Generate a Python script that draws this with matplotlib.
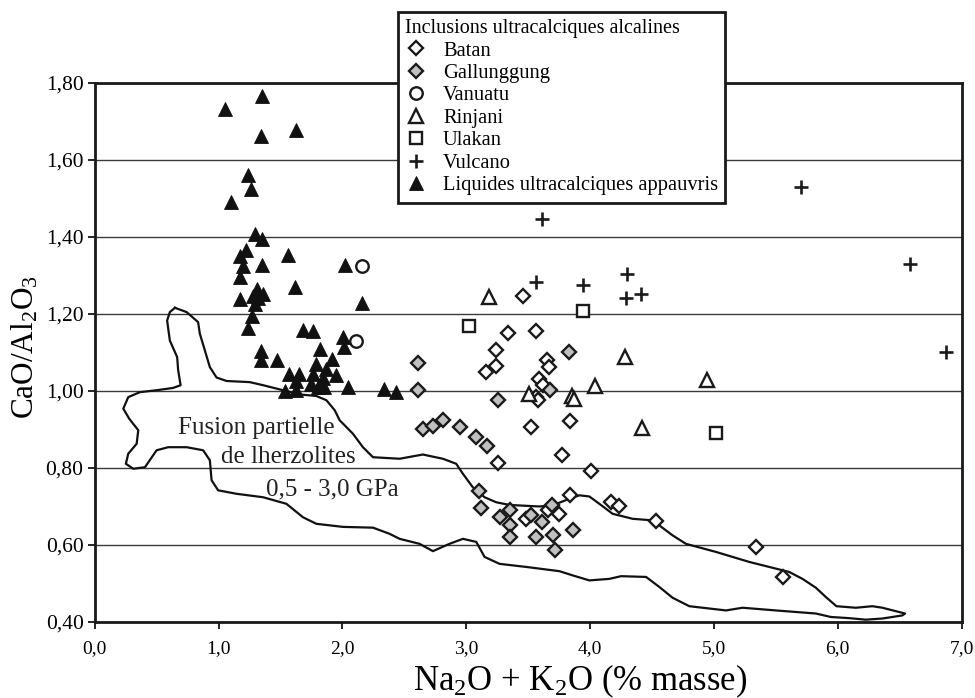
import matplotlib
matplotlib.use("Agg")
import matplotlib.pyplot as plt
from matplotlib.lines import Line2D
from matplotlib.ticker import FuncFormatter, MultipleLocator

plt.rcParams.update({
    "font.family": ["Liberation Serif", "DejaVu Serif"],
    "mathtext.fontset": "custom",
    "mathtext.rm": "Liberation Serif",
    "mathtext.it": "Liberation Serif:italic",
    "figure.dpi": 100,
})

# ── Données ───────────────────────────────────────────────────────────────────
batan_x = [3.46, 3.34, 3.56, 3.24, 3.24, 3.16, 3.65, 3.67, 3.59, 3.62, 3.56, 3.58, 3.52,
           3.84, 3.26, 3.77, 4.01, 3.84, 4.17, 4.23, 4.53, 5.34, 5.56, 3.66, 3.75, 3.48]
batan_y = [1.246, 1.151, 1.156, 1.107, 1.066, 1.050, 1.080, 1.062, 1.031, 1.016, 0.984,
           0.976, 0.906, 0.923, 0.812, 0.835, 0.792, 0.729, 0.711, 0.700, 0.663, 0.595,
           0.517, 0.690, 0.681, 0.668]

gall_x = [2.61, 2.61, 3.26, 3.83, 3.68, 2.65, 2.73, 2.81, 2.95, 3.08, 3.17, 3.10, 3.12,
          3.35, 3.27, 3.35, 3.52, 3.61, 3.35, 3.56, 3.70, 3.72, 3.86, 3.69]
gall_y = [1.073, 1.003, 0.976, 1.101, 1.002, 0.900, 0.908, 0.924, 0.906, 0.880, 0.856,
          0.740, 0.696, 0.690, 0.672, 0.651, 0.679, 0.659, 0.622, 0.622, 0.625, 0.588,
          0.640, 0.703]

vanuatu_x = [2.16, 2.11]
vanuatu_y = [1.324, 1.131]

rinjani_x = [3.18, 3.51, 3.85, 3.87, 4.04, 4.28, 4.94, 4.42]
rinjani_y = [1.244, 0.993, 0.986, 0.978, 1.012, 1.088, 1.029, 0.905]

ulakan_x = [3.02, 3.94, 5.02]
ulakan_y = [1.170, 1.209, 0.892]

vulcano_x = [5.70, 3.61, 6.58, 6.87, 3.56, 3.94, 4.30, 4.29, 4.41]
vulcano_y = [1.530, 1.447, 1.331, 1.101, 1.283, 1.276, 1.305, 1.241, 1.253]

liq_x = [1.347, 1.056, 1.342, 1.623, 1.242, 1.266, 1.102, 1.295, 1.347, 1.218, 1.172,
         1.564, 1.199, 1.347, 2.021, 1.172, 1.615, 1.177, 1.314, 1.279, 1.360, 1.320,
         1.293, 2.156, 1.274, 1.234, 1.685, 1.763, 2.005, 2.011, 1.817, 1.339, 1.919,
         1.339, 1.470, 1.790, 1.871, 1.570, 1.648, 1.763, 1.844, 1.946, 1.629, 1.750,
         1.804, 2.046, 1.535, 1.623, 2.335, 1.849, 2.430]
liq_y = [1.765, 1.733, 1.662, 1.677, 1.560, 1.525, 1.492, 1.407, 1.394, 1.365, 1.350,
         1.352, 1.324, 1.326, 1.327, 1.296, 1.270, 1.240, 1.266, 1.248, 1.251, 1.242,
         1.227, 1.228, 1.195, 1.164, 1.159, 1.156, 1.140, 1.114, 1.110, 1.105, 1.084,
         1.080, 1.080, 1.071, 1.058, 1.043, 1.045, 1.045, 1.035, 1.041, 1.026, 1.019,
         1.010, 1.010, 1.000, 1.002, 1.006, 1.010, 0.997]

# contour du domaine de fusion partielle des lherzolites
fusion_x = [0.648, 0.742, 0.835, 0.849, 0.890, 0.930, 0.984, 1.065, 1.252, 1.360, 1.521,
            1.656, 1.790, 1.871, 1.938, 1.978, 2.085, 2.166, 2.247, 2.462, 2.650, 2.811,
            2.919, 2.973, 3.053, 3.148, 3.242, 3.349, 3.591, 3.698, 3.833, 3.914, 3.994,
            4.075, 4.182, 4.344, 4.505, 4.666, 4.774, 5.016, 5.285, 5.446, 5.607, 5.715,
            5.823, 5.903, 5.989, 6.145, 6.279, 6.360, 6.543, 6.521, 6.360, 6.226, 6.091,
            5.944, 5.823, 5.500, 5.231, 5.097, 4.801, 4.666, 4.559, 4.452, 4.250, 4.156,
            3.994, 3.860, 3.752, 3.484, 3.269, 3.148, 3.081, 2.973, 2.865, 2.731, 2.623,
            2.462, 2.381, 2.247, 2.005, 1.790, 1.682, 1.548, 1.360, 1.145, 0.997, 0.944,
            0.930, 0.876, 0.742, 0.594, 0.500, 0.406, 0.311, 0.252, 0.271, 0.339, 0.352,
            0.279, 0.231, 0.271, 0.365, 0.500, 0.634, 0.694, 0.674, 0.666, 0.607, 0.585,
            0.607, 0.648]
fusion_y = [1.216, 1.205, 1.179, 1.149, 1.105, 1.062, 1.035, 1.026, 1.023, 1.015, 1.002,
            0.991, 0.987, 0.976, 0.950, 0.924, 0.889, 0.854, 0.828, 0.824, 0.835, 0.824,
            0.811, 0.785, 0.750, 0.724, 0.711, 0.704, 0.700, 0.703, 0.720, 0.729, 0.726,
            0.707, 0.681, 0.668, 0.664, 0.625, 0.603, 0.582, 0.556, 0.543, 0.530, 0.512,
            0.489, 0.465, 0.441, 0.437, 0.441, 0.437, 0.422, 0.417, 0.409, 0.406, 0.410,
            0.413, 0.422, 0.430, 0.437, 0.430, 0.441, 0.463, 0.491, 0.517, 0.519, 0.512,
            0.508, 0.521, 0.532, 0.543, 0.551, 0.569, 0.608, 0.616, 0.603, 0.584, 0.603,
            0.616, 0.629, 0.645, 0.647, 0.655, 0.672, 0.707, 0.724, 0.733, 0.742, 0.768,
            0.820, 0.846, 0.854, 0.854, 0.846, 0.802, 0.798, 0.811, 0.837, 0.863, 0.898,
            0.928, 0.954, 0.984, 0.997, 1.002, 1.008, 1.015, 1.054, 1.088, 1.131, 1.183,
            1.205, 1.216]

fusion_lignes = ["Fusion partielle", "de lherzolites", "0,5 - 3,0 GPa"]
fusion_pos = [(0.672, 0.905), (1.024, 0.828), (1.381, 0.744)]

# ── Styles ────────────────────────────────────────────────────────────────────
EDGE = "#1a1a1a"
GRIS = "#c0c0c0"

series = [
    ("Batan", batan_x, batan_y,
     dict(marker="D", ms=7.5, mfc="white", mec=EDGE, mew=1.7)),
    ("Gallunggung", gall_x, gall_y,
     dict(marker="D", ms=7.5, mfc=GRIS, mec=EDGE, mew=1.7)),
    ("Vanuatu", vanuatu_x, vanuatu_y,
     dict(marker="o", ms=9, mfc="white", mec=EDGE, mew=1.7)),
    ("Rinjani", rinjani_x, rinjani_y,
     dict(marker="^", ms=10, mfc="white", mec=EDGE, mew=1.7)),
    ("Ulakan", ulakan_x, ulakan_y,
     dict(marker="s", ms=9, mfc="white", mec=EDGE, mew=1.7)),
    ("Vulcano", vulcano_x, vulcano_y,
     dict(marker="+", ms=10.5, mec=EDGE, mew=1.9)),
    ("Liquides ultracalciques appauvris", liq_x, liq_y,
     dict(marker="^", ms=10.5, mfc="#111111", mec="#111111", mew=0.6)),
]

fig = plt.figure(figsize=(9.75, 6.98), dpi=100)
ax = fig.add_axes([0.0971, 0.1089, 0.8892, 0.7722])

ax.set_xlim(0, 7)
ax.set_ylim(0.4, 1.8)
ax.xaxis.set_major_locator(MultipleLocator(1))
ax.yaxis.set_major_locator(MultipleLocator(0.2))
ax.xaxis.set_major_formatter(FuncFormatter(lambda v, p: f"{v:.1f}".replace(".", ",")))
ax.yaxis.set_major_formatter(FuncFormatter(lambda v, p: f"{v:.2f}".replace(".", ",")))
ax.tick_params(axis="both", direction="out", length=5, width=1.2, color="black")
ax.tick_params(axis="x", labelsize=14, pad=8)
ax.tick_params(axis="y", labelsize=15.5, pad=3)
ax.grid(axis="y", color="#3a3a3a", linewidth=1.0)
ax.set_axisbelow(True)
for sp in ax.spines.values():
    sp.set_linewidth(2.0)
    sp.set_color("#1a1a1a")

ax.plot(fusion_x, fusion_y, color="#111111", linewidth=1.6, zorder=2)
for txt, (tx, ty) in zip(fusion_lignes, fusion_pos):
    ax.text(tx, ty, txt, fontsize=18, ha="left", va="center", color="#222222", zorder=2)

handles = []
for nom, xs, ys, st in series:
    ax.plot(xs, ys, linestyle="none", zorder=3, **st)
    handles.append(Line2D([], [], linestyle="none", label=nom, **st))

ax.set_xlabel("Na$_2$O + K$_2$O (% masse)", fontsize=25)
ax.xaxis.set_label_coords(0.56, -0.075)
ax.set_ylabel("CaO/Al$_2$O$_3$", fontsize=22.5)
ax.yaxis.set_label_coords(-0.062, 0.51)

leg = fig.legend(handles=handles, loc="upper left", bbox_to_anchor=(0.408, 0.983),
                 title="Inclusions ultracalciques alcalines", title_fontsize=14.5,
                 fontsize=14.8, alignment="left", frameon=True, fancybox=False,
                 framealpha=1, edgecolor="#1a1a1a", borderpad=0.35, labelspacing=0.15,
                 handlelength=1.1, handletextpad=0.75, borderaxespad=0)
leg.get_frame().set_linewidth(2.0)
leg.set_zorder(10)

fig.savefig("out.png", dpi=100)
